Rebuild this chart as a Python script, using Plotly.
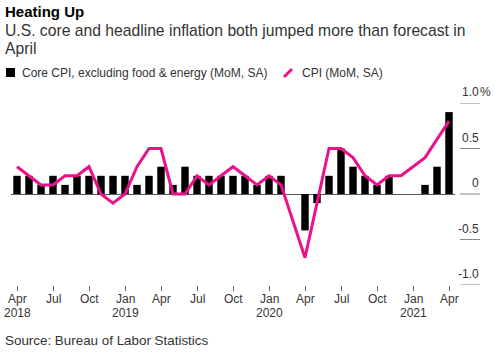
import plotly.graph_objects as go
import pandas as pd

# ---- data ----
months = [d.strftime("%Y-%m") for d in pd.date_range("2018-04-01", "2021-04-01", freq="MS")]
core_cpi = [0.2, 0.2, 0.1, 0.2, 0.1, 0.2, 0.2, 0.2, 0.2,
            0.2, 0.1, 0.2, 0.3, 0.1, 0.3, 0.2, 0.2, 0.2, 0.2, 0.2, 0.1,
            0.2, 0.2, 0.0, -0.4, -0.1, 0.2, 0.5, 0.3, 0.2, 0.1, 0.2, 0.0,
            0.0, 0.1, 0.3, 0.9]
cpi = [0.3, 0.2, 0.1, 0.1, 0.2, 0.2, 0.3, 0.0, -0.1,
       0.0, 0.3, 0.5, 0.5, 0.0, 0.0, 0.2, 0.1, 0.2, 0.3, 0.2, 0.1,
       0.2, 0.1, -0.3, -0.7, -0.1, 0.5, 0.5, 0.4, 0.2, 0.1, 0.2, 0.2,
       0.3, 0.4, 0.6, 0.8]
x_tick_vals = months[::3]
x_tick_months = ["Apr", "Jul", "Oct", "Jan", "Apr", "Jul", "Oct", "Jan", "Apr", "Jul", "Oct", "Jan", "Apr"]
x_tick_years = ["2018", "", "", "2019", "", "", "", "2020", "", "", "", "2021", ""]
y_tick_vals = [1.0, 0.5, 0.0, -0.5, -1.0]
y_tick_text = ["1.0", "0.5", "0", "-0.5", "-1.0"]

title = "Heating Up"
subtitle = ["U.S. core and headline inflation both jumped more than forecast in", "April"]
legend_names = ["Core CPI, excluding food & energy (MoM, SA)", "CPI (MoM, SA)"]
source = "Source: Bureau of Labor Statistics"

# ---- layout geometry ----
W, H = 494, 352
ML, MR, MT, MB = 11, 39, 103, 67
PW, PH = W - ML - MR, H - MT - MB
FONT = "Liberation Sans, Arial, sans-serif"
PINK = "#ec118a"
TXT = "#333333"

def px(x):
    return (x - ML) / PW

def py(y):
    return 1 - (y - MT) / PH

fig = go.Figure()
fig.add_trace(go.Bar(x=months, y=core_cpi, marker=dict(color="#000000", line=dict(width=0)),
                     name=legend_names[0], showlegend=False))
fig.add_trace(go.Scatter(x=months, y=cpi, mode="lines", line=dict(color=PINK, width=3),
                         name=legend_names[1], showlegend=False, cliponaxis=False))

annotations = []
shapes = []

# Title & subtitle
annotations.append(dict(x=px(3), y=py(11), xref="paper", yref="paper", xanchor="left", yanchor="middle",
                        text="<b>%s</b>" % title, showarrow=False,
                        font=dict(family=FONT, size=15, color="#000000")))
for i, line in enumerate(subtitle):
    annotations.append(dict(x=px(3), y=py(30 + 19 * i), xref="paper", yref="paper", xanchor="left",
                            yanchor="middle", text=line, showarrow=False,
                            font=dict(family=FONT, size=15.7, color=TXT)))

# Legend
shapes.append(dict(type="rect", xref="paper", yref="paper", x0=px(6), x1=px(15), y0=py(68), y1=py(77),
                   fillcolor="#000000", line=dict(width=0)))
shapes.append(dict(type="line", xref="paper", yref="paper", x0=px(284), x1=px(292), y0=py(77), y1=py(69),
                   line=dict(color=PINK, width=3)))
annotations.append(dict(x=px(20), y=py(73), xref="paper", yref="paper", xanchor="left", yanchor="middle",
                        text=legend_names[0], showarrow=False, font=dict(family=FONT, size=12, color=TXT)))
annotations.append(dict(x=px(300), y=py(73), xref="paper", yref="paper", xanchor="left", yanchor="middle",
                        text=legend_names[1], showarrow=False, font=dict(family=FONT, size=12, color=TXT)))

# Y axis ticks (right side, labels above tick lines)
for v, t in zip(y_tick_vals, y_tick_text):
    shapes.append(dict(type="line", xref="paper", yref="y", x0=px(460), x1=px(480), y0=v, y1=v,
                       line=dict(color="#888888", width=1)))
    annotations.append(dict(x=px(481), y=v, xref="paper", yref="y", xanchor="right", yanchor="bottom",
                            yshift=2, text=t, showarrow=False,
                            font=dict(family=FONT, size=12, color=TXT)))
annotations.append(dict(x=px(480), y=y_tick_vals[0], xref="paper", yref="y", xanchor="left",
                        yanchor="bottom", yshift=2, xshift=-2, text="%", showarrow=False,
                        font=dict(family=FONT, size=12, color=TXT)))

# X tick labels (month line + year line)
for v, m, yr in zip(x_tick_vals, x_tick_months, x_tick_years):
    annotations.append(dict(x=v, y=py(299), xref="x", yref="paper", xanchor="center", yanchor="middle",
                            text=m, showarrow=False, font=dict(family=FONT, size=12, color=TXT)))
    if yr:
        annotations.append(dict(x=v, y=py(312.5), xref="x", yref="paper", xanchor="center",
                                yanchor="middle", text=yr, showarrow=False,
                                font=dict(family=FONT, size=12, color=TXT)))

# Source
annotations.append(dict(x=px(3), y=py(340), xref="paper", yref="paper", xanchor="left", yanchor="middle",
                        text=source, showarrow=False, font=dict(family=FONT, size=13.4, color=TXT)))

fig.update_layout(
    width=W, height=H,
    margin=dict(l=ML, r=MR, t=MT, b=MB, pad=0),
    paper_bgcolor="white", plot_bgcolor="white",
    bargap=0.38,
    showlegend=False,
    annotations=annotations,
    shapes=shapes,
    font=dict(family=FONT, size=12, color=TXT),
    xaxis=dict(type="category", categoryorder="array", categoryarray=months,
               range=[-0.5, len(months) - 0.5],
               tickmode="array", tickvals=x_tick_vals, showticklabels=False,
               ticks="outside", ticklen=5, tickcolor="#666666", tickwidth=1,
               showgrid=False, showline=False, zeroline=False),
    yaxis=dict(range=[-1.0, 1.0], showticklabels=False, ticks="", showgrid=False,
               zeroline=True, zerolinecolor="#555555", zerolinewidth=1, showline=False),
)

fig.write_html("out.html")
